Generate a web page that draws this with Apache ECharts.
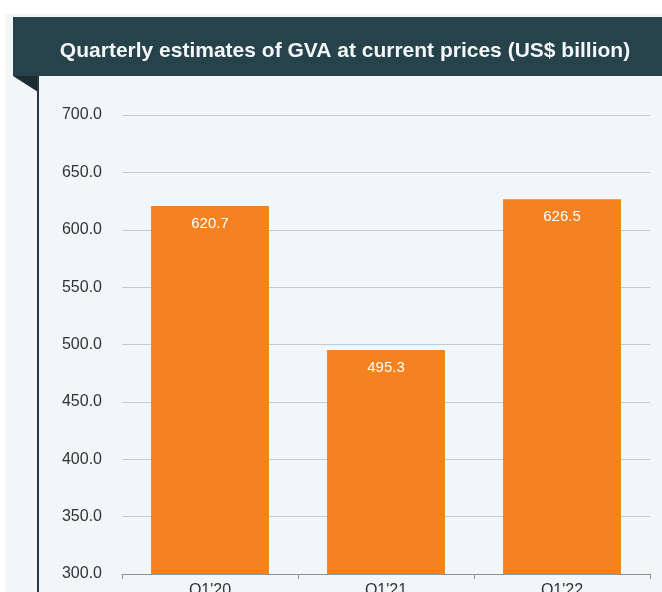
<!DOCTYPE html>
<html>
<head>
<meta charset="utf-8">
<script src="https://cdn.jsdelivr.net/npm/echarts@6/dist/echarts.min.js"></script>
<style>
  html, body { margin: 0; padding: 0; background: #fff; }
  #main { width: 662px; height: 592px; }
</style>
</head>
<body>
<div id="main"></div>
<script>
// data
var quarters = ["Q1'20", "Q1'21", "Q1'22"];
var gva = [620.7, 495.3, 626.5];
var yTicks = { min: 300, max: 700, step: 50 };

var chart = echarts.init(document.getElementById('main'));

chart.setOption({
    backgroundColor: '#ffffff',
    animation: false,
    graphic: [
        // light panel
        { type: 'rect', shape: { x: 5, y: 14, width: 657, height: 578 }, style: { fill: '#f2f6f9' }, z: -10 },
        // header bar
        { type: 'rect', shape: { x: 13, y: 17, width: 649, height: 59 }, style: { fill: '#26424b' }, z: -5 },
        // folded corner
        { type: 'polygon', shape: { points: [[13, 76], [38, 76], [38, 92]] }, style: { fill: '#1b2d33' }, z: -5 },
        // left dark rule
        { type: 'rect', shape: { x: 37, y: 76, width: 2, height: 516 }, style: { fill: '#2a3a40' }, z: -5 }
    ],
    title: {
        text: 'Quarterly estimates of GVA at current prices (US$ billion)',
        left: 340,
        top: 36,
        textAlign: 'center',
        textStyle: {
            color: '#f4f6f7',
            fontFamily: 'Liberation Sans, Arial, sans-serif',
            fontSize: 21,
            fontWeight: 'bold'
        }
    },
    grid: { left: 122, right: 12, top: 115, bottom: 18, outerBoundsMode: 'none' },
    xAxis: {
        type: 'category',
        data: quarters,
        axisLine: { lineStyle: { color: '#8a9499', width: 1 } },
        axisTick: { show: true, length: 5, lineStyle: { color: '#8a9499' } },
        axisLabel: {
            color: '#333',
            fontFamily: 'Liberation Sans, Arial, sans-serif',
            fontSize: 16,
            margin: 9
        }
    },
    yAxis: {
        type: 'value',
        min: yTicks.min,
        max: yTicks.max,
        interval: yTicks.step,
        axisLine: { show: false },
        axisTick: { show: false },
        axisLabel: {
            color: '#333',
            fontFamily: 'Liberation Sans, Arial, sans-serif',
            fontSize: 16,
            margin: 20,
            formatter: function (v) { return v.toFixed(1); }
        },
        splitLine: { lineStyle: { color: '#c3cbcf', width: 1 } }
    },
    series: [{
        type: 'bar',
        data: gva,
        barWidth: '67%',
        itemStyle: { color: '#f58220' },
        label: {
            show: true,
            position: 'insideTop',
            distance: 10,
            color: '#ffffff',
            fontFamily: 'Liberation Sans, Arial, sans-serif',
            fontSize: 15,
            formatter: function (p) { return p.value.toFixed(1); }
        }
    }]
});
</script>
</body>
</html>
